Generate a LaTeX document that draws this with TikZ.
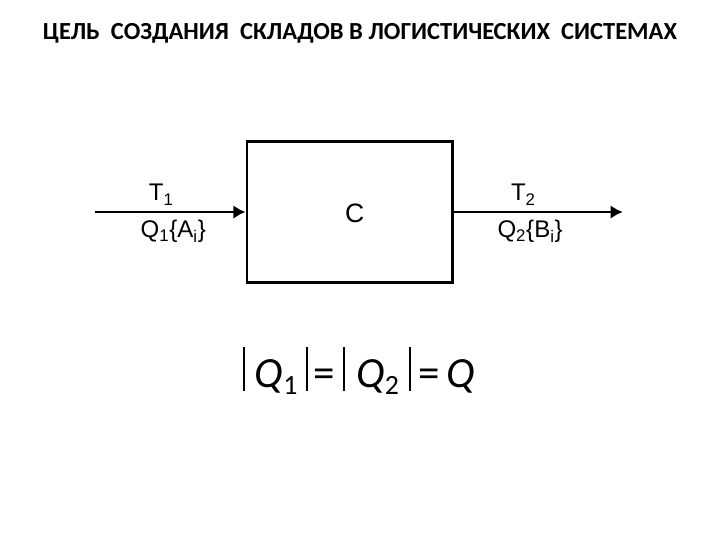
\documentclass[tikz,border=0pt]{standalone}
\usepackage{fontspec}
\setmainfont{Liberation Sans}
\newfontfamily\titlefont{Carlito}
\usetikzlibrary{scopes,arrows.meta}

\newcommand\absbar{\rule[-3pt]{1.3pt}{35pt}}

\begin{document}
\begin{tikzpicture}[
    flow/.style={>={Latex[length=3.4mm,width=3.8mm]},draw=black,line width=2.2pt},
    sklad/.style={rectangle,draw,line width=2.2pt,minimum width=5.72cm,minimum height=3.9cm},
    lbl/.style={font=\fontsize{19}{21}\selectfont},
    title/.style={font=\titlefont\bfseries\fontsize{19.4}{21}\selectfont},
]
    \useasboundingbox (0,0) rectangle (20,15);

    %%%
    % Title
    \node[title] (head) at (10,14.08) {ЦЕЛЬ\ \ СОЗДАНИЯ\ \ СКЛАДОВ В\ ЛОГИСТИЧЕСКИХ\ \ СИСТЕМАХ};

    %%%
    % Warehouse block
    \node[sklad] (C) at (9.72,9.11) {};
    \node[lbl,font=\fontsize{21}{23}\selectfont] (Clbl) at (9.85,9.08) {C};
    \coordinate (in) at (2.64,9.11);
    \coordinate (out) at (17.3,9.11);
    {[flow,->]
        \draw (in) -- (C.west);
        \draw (C.east) -- (out);
    }
    \path (in) -- (C.west) node[pos=0.44,above=2pt,lbl] (T1) {T\textsubscript{1}}
                           node[pos=0.52,below=3pt,lbl] (Q1) {Q\textsubscript{1}\{A\textsubscript{i}\}};
    \path (C.east) -- (out) node[pos=0.41,above=2pt,lbl] (T2) {T\textsubscript{2}}
                            node[pos=0.45,below=3pt,lbl] (Q2) {Q\textsubscript{2}\{B\textsubscript{i}\}};

    %%%
    % Balance of flows
    \node[font=\titlefont\fontsize{34}{40}\selectfont,inner sep=0pt] (eq) at (9.97,4.7)
        {\absbar\hspace{8pt}\textit{Q}\raisebox{-6pt}{\fontsize{22}{24}\selectfont 1}\hspace{7pt}\absbar\hspace{4pt}=\hspace{7pt}\absbar\hspace{9pt}\textit{Q}\raisebox{-6pt}{\fontsize{22}{24}\selectfont 2}\hspace{8pt}\absbar\hspace{6pt}=\hspace{5pt}\textit{Q}};

\end{tikzpicture}
\end{document}
